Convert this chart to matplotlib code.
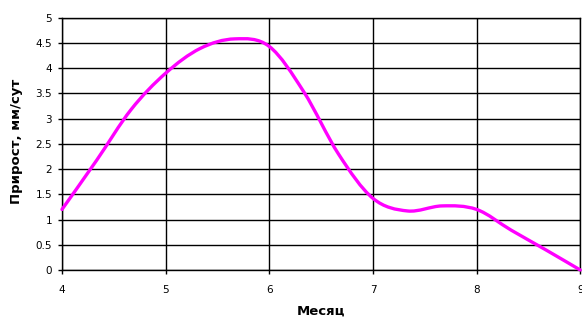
import numpy as np
import matplotlib
matplotlib.use("Agg")
import matplotlib.pyplot as plt
from matplotlib.path import Path
from matplotlib.patches import PathPatch

# ten-day periods (three per month)
months = [4.0, 4.333, 4.667, 5.0, 5.333, 5.667, 6.0, 6.333, 6.667,
          7.0, 7.333, 7.667, 8.0, 8.333, 8.667, 9.0]
growth = [1.2, 2.17, 3.18, 3.9, 4.39, 4.58, 4.43, 3.53, 2.3,
          1.42, 1.17, 1.27, 1.2, 0.79, 0.40, 0.0]
x_ticks = [4, 5, 6, 7, 8, 9]
y_ticks = [0, 0.5, 1, 1.5, 2, 2.5, 3, 3.5, 4, 4.5, 5]


def smooth_path(xs, ys):
    """Cubic Bezier path through the points (Catmull-Rom style smoothing)."""
    pts = np.column_stack([xs, ys])
    n = len(pts)
    verts = [pts[0]]
    codes = [Path.MOVETO]
    for i in range(n - 1):
        p0 = pts[max(i - 1, 0)]
        p1 = pts[i]
        p2 = pts[i + 1]
        p3 = pts[min(i + 2, n - 1)]
        c1 = p1 + (p2 - p0) / 6.0
        c2 = p2 - (p3 - p1) / 6.0
        verts += [c1, c2, p2]
        codes += [Path.CURVE4] * 3
    return Path(verts, codes)


plt.rcParams["font.family"] = ["DejaVu Sans"]

fig = plt.figure(figsize=(5.82, 3.21), dpi=100)
ax = fig.add_axes([0.1065, 0.1589, 0.8905, 0.786])

ax.set_xlim(4, 9)
ax.set_ylim(0, 5)
ax.set_xticks(x_ticks)
ax.set_yticks(y_ticks)
ax.set_yticklabels([f"{v:g}" for v in y_ticks])
ax.grid(True, color="black", linewidth=1.0)
ax.set_axisbelow(True)
for s in ax.spines.values():
    s.set_color("black")
    s.set_linewidth(1.0)

ax.tick_params(axis="both", direction="out", length=3, width=1, color="black",
               labelsize=7.5)
ax.tick_params(axis="y", pad=4)
ax.tick_params(axis="x", pad=8)

patch = PathPatch(smooth_path(months, growth), facecolor="none",
                  edgecolor="#FF00FF", linewidth=2.4, capstyle="round",
                  joinstyle="round", zorder=3, clip_on=False)
ax.add_patch(patch)

ax.set_xlabel("Месяц", fontsize=9.5, fontweight="bold")
ax.set_ylabel("Прирост, мм/сут", fontsize=9.5, fontweight="bold")
ax.xaxis.set_label_coords(0.5, -0.137)
ax.yaxis.set_label_coords(-0.075, 0.51)

fig.savefig("out.png", dpi=100)
